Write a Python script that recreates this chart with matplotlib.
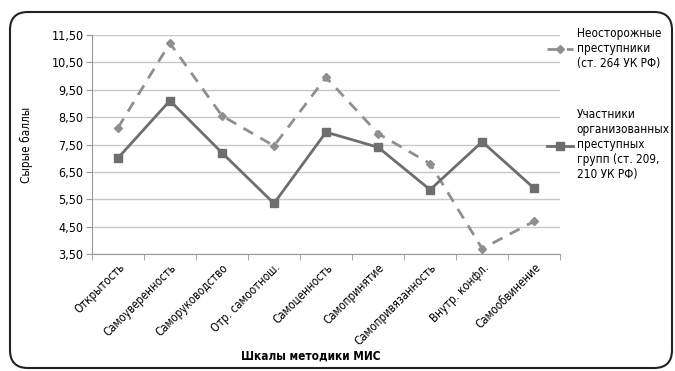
import matplotlib
matplotlib.use('Agg')
import matplotlib.pyplot as plt
from matplotlib.patches import FancyBboxPatch
from matplotlib.lines import Line2D
from matplotlib.ticker import FuncFormatter

plt.rcParams['font.family'] = ['DejaVu Sans']
plt.rcParams['font.stretch'] = 'condensed'

scales = ["Открытость", "Самоуверенность", "Саморуководство", "Отр. самоотнош.",
          "Самоценность", "Самопринятие", "Самопривязанность", "Внутр. конфл.",
          "Самообвинение"]
careless = [8.1, 11.2, 8.55, 7.45, 9.95, 7.9, 6.8, 3.7, 4.7]
organized = [7.0, 9.1, 7.2, 5.35, 7.95, 7.4, 5.85, 7.6, 5.9]
label_careless = "Неосторожные\nпреступники\n(ст. 264 УК РФ)"
label_organized = "Участники\nорганизованных\nпреступных\nгрупп (ст. 209,\n210 УК РФ)"

fig = plt.figure(figsize=(6.75, 3.71), dpi=100)
ax = fig.add_axes([0.136, 0.315, 0.694, 0.591])

x = list(range(len(scales)))
ax.plot(x, careless, color='#8f8f8f', lw=2, ls=(0, (4, 3)), marker='D', ms=4,
        mfc='#8f8f8f', mec='#8f8f8f')
ax.plot(x, organized, color='#6e6e6e', lw=2, marker='s', ms=6,
        mfc='#6e6e6e', mec='#6e6e6e')

ax.set_xlim(-0.5, len(scales) - 0.5)
ax.set_ylim(3.5, 11.5)
ax.set_yticks([3.5 + i for i in range(9)])
ax.yaxis.set_major_formatter(FuncFormatter(lambda v, p: f"{v:.2f}".replace('.', ',')))
ax.set_xticks(x)
ax.set_xticklabels(scales, rotation=45, ha='right', rotation_mode='anchor', fontsize=8.3)
ax.set_xticks([i - 0.5 for i in range(len(scales) + 1)], minor=True)
ax.tick_params(axis='x', which='major', length=0, pad=5)
ax.tick_params(axis='x', which='minor', length=4, color='#999999')
ax.tick_params(axis='y', length=4, color='#999999', labelsize=9, pad=2)
ax.grid(axis='y', color='#c8c8c8', lw=1)
ax.set_axisbelow(True)
for s in ['top', 'right']:
    ax.spines[s].set_visible(False)
ax.spines['left'].set_color('#999999')
ax.spines['bottom'].set_color('#999999')

ax.set_ylabel("Сырые баллы", fontsize=8.5)
ax.yaxis.set_label_coords(-0.125, 0.5)
fig.text(0.46, 0.03, "Шкалы методики МИС", ha='center', fontsize=8.5, fontweight='bold')

# legend on the right
h1 = Line2D([], [], color='#8f8f8f', lw=2, ls=(0, (4, 3)), marker='D', ms=4)
h2 = Line2D([], [], color='#6e6e6e', lw=2, marker='s', ms=6)
fig.legend([h1], [label_careless], loc='center left', bbox_to_anchor=(0.795, 0.87),
           frameon=False, fontsize=8.5, handlelength=2.2, handletextpad=0.3)
fig.legend([h2], [label_organized], loc='center left', bbox_to_anchor=(0.795, 0.61),
           frameon=False, fontsize=8.5, handlelength=2.2, handletextpad=0.3)

frame = FancyBboxPatch((10, 3), 662, 356, boxstyle='round,pad=0,rounding_size=18',
                       fill=False, ec='#222222', lw=1.5, transform=None, zorder=-1)
fig.patches.append(frame)

fig.savefig('out.png', dpi=100)
